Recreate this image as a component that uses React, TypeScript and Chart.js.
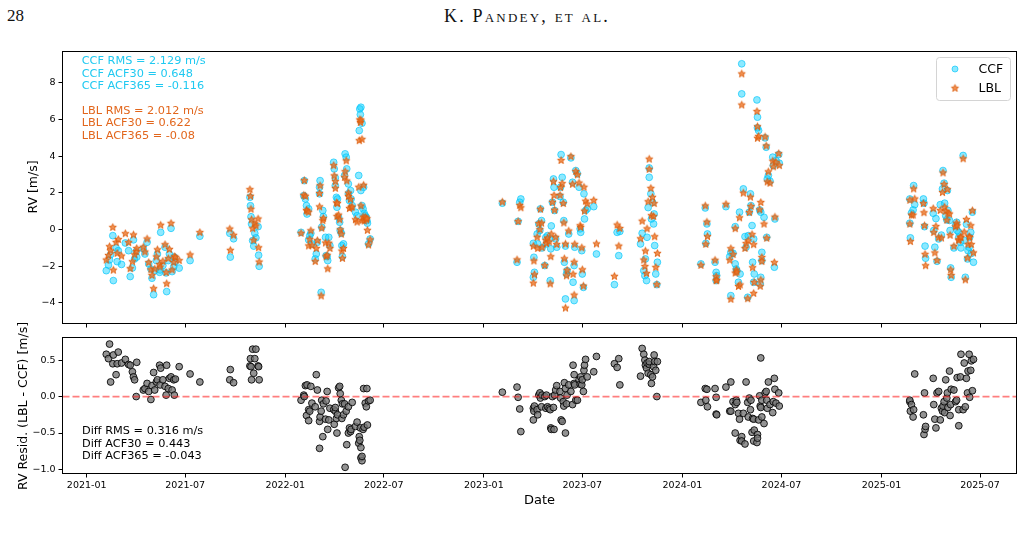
import { useEffect, useRef } from "react";
import { Chart, registerables } from "chart.js";

Chart.register(...registerables);

// Observation epochs (UTC dates) with CCF and LBL radial velocities and their residual (LBL - CCF), in m/s.
const obsDates: string[] = [
  // 2021
  "2021-02-06","2021-02-10","2021-02-12","2021-02-14","2021-02-18","2021-02-19","2021-02-24","2021-02-26","2021-02-28","2021-03-06",
  "2021-03-13","2021-03-19","2021-03-22","2021-03-26","2021-03-28","2021-03-30","2021-04-02","2021-04-03","2021-04-15","2021-04-18",
  "2021-04-22","2021-04-25","2021-04-29","2021-05-01","2021-05-04","2021-05-06","2021-05-09","2021-05-11","2021-05-15","2021-05-16",
  "2021-05-17","2021-05-21","2021-05-25","2021-05-27","2021-05-28","2021-05-31","2021-06-02","2021-06-05","2021-06-07","2021-06-10",
  "2021-06-11","2021-06-13","2021-06-20","2021-07-10","2021-07-28","2021-09-21","2021-09-22","2021-09-28","2021-10-28","2021-10-29",
  "2021-10-30","2021-10-31","2021-11-02","2021-11-04","2021-11-06","2021-11-08","2021-11-12","2021-11-13","2021-11-14",
  // 2022
  "2022-01-30","2022-02-04","2022-02-05","2022-02-07","2022-02-09","2022-02-10","2022-02-13","2022-02-13","2022-02-15","2022-02-17",
  "2022-02-19","2022-02-25","2022-02-27","2022-03-01","2022-03-05","2022-03-05","2022-03-06","2022-03-08","2022-03-09","2022-03-11",
  "2022-03-12","2022-03-16","2022-03-17","2022-03-19","2022-03-20","2022-03-22","2022-03-24","2022-03-31","2022-04-01","2022-04-03",
  "2022-04-03","2022-04-05","2022-04-06","2022-04-07","2022-04-09","2022-04-11","2022-04-12","2022-04-14","2022-04-15","2022-04-16",
  "2022-04-18","2022-04-20","2022-04-21","2022-04-23","2022-04-24","2022-04-27","2022-04-27","2022-04-29","2022-05-01","2022-05-02",
  "2022-05-04","2022-05-10","2022-05-13","2022-05-16","2022-05-17","2022-05-18","2022-05-19","2022-05-20","2022-05-20","2022-05-22",
  "2022-05-22","2022-05-24","2022-05-25","2022-05-26","2022-05-28","2022-05-30","2022-05-31","2022-06-01","2022-06-03","2022-06-06",
  // 2023
  "2023-02-04","2023-03-03","2023-03-05","2023-03-08","2023-03-10",
  "2023-04-02","2023-04-02","2023-04-03","2023-04-04","2023-04-09","2023-04-10","2023-04-12","2023-04-14","2023-04-15","2023-04-17",
  "2023-04-18","2023-04-23","2023-04-25","2023-04-26","2023-04-28","2023-05-01","2023-05-03","2023-05-04","2023-05-05","2023-05-07",
  "2023-05-09","2023-05-10","2023-05-11","2023-05-13","2023-05-15","2023-05-21","2023-05-22","2023-05-23","2023-05-25","2023-05-27",
  "2023-05-28","2023-05-29","2023-05-31","2023-05-31","2023-06-02","2023-06-03","2023-06-06","2023-06-10","2023-06-13","2023-06-14",
  "2023-06-16","2023-06-16","2023-06-17","2023-06-19","2023-06-22","2023-06-25","2023-06-27","2023-06-28","2023-06-30","2023-07-01",
  "2023-07-03","2023-07-04","2023-07-05","2023-07-07","2023-07-10","2023-07-22","2023-07-27",
  "2023-08-29","2023-09-03","2023-09-06","2023-09-08",
  "2023-10-16","2023-10-19","2023-10-22","2023-10-24","2023-10-25","2023-10-27","2023-10-28","2023-10-30","2023-11-01","2023-11-01",
  "2023-11-04","2023-11-05","2023-11-07","2023-11-09","2023-11-10","2023-11-11","2023-11-13","2023-11-15","2023-11-16",
  // 2024
  "2024-02-04","2024-02-12","2024-02-13","2024-02-15","2024-02-16","2024-03-01","2024-03-03","2024-03-03","2024-03-04","2024-03-21",
  "2024-03-28","2024-03-30","2024-03-30","2024-04-03","2024-04-07","2024-04-07","2024-04-09","2024-04-10","2024-04-13","2024-04-15",
  "2024-04-16","2024-04-19","2024-04-19","2024-04-22","2024-04-25","2024-04-27","2024-04-30","2024-05-01","2024-05-03","2024-05-05",
  "2024-05-06","2024-05-08","2024-05-09","2024-05-11","2024-05-11","2024-05-12","2024-05-17","2024-05-18","2024-05-18","2024-05-20",
  "2024-05-22","2024-05-23","2024-05-24","2024-05-24","2024-05-26","2024-05-26","2024-05-30","2024-06-01","2024-06-03","2024-06-04",
  "2024-06-05","2024-06-07","2024-06-10","2024-06-15","2024-06-16","2024-06-18","2024-06-19","2024-06-21","2024-06-26","2024-06-27",
  // 2025
  "2025-02-22","2025-02-22","2025-02-23","2025-02-25","2025-02-28","2025-03-01","2025-03-03","2025-03-19","2025-03-20","2025-03-21",
  "2025-03-22","2025-03-23","2025-04-06","2025-04-07","2025-04-09","2025-04-11","2025-04-13","2025-04-16","2025-04-19","2025-04-21",
  "2025-04-23","2025-04-24","2025-04-26","2025-04-27","2025-04-29","2025-05-01","2025-05-02","2025-05-03","2025-05-06","2025-05-07",
  "2025-05-08","2025-05-09","2025-05-14","2025-05-17","2025-05-19","2025-05-20","2025-05-23","2025-05-23","2025-05-26","2025-05-27",
  "2025-05-31","2025-06-02","2025-06-04","2025-06-06","2025-06-08","2025-06-09","2025-06-11","2025-06-12","2025-06-14","2025-06-15",
  "2025-06-17","2025-06-19",
];

const ccfRv: number[] = [
  -2.24,-1.93,-1.65,-1.36,-0.33,-2.78,-1.00,-1.75,-1.15,-1.90,
  -0.73,-1.15,-2.56,-2.09,-0.56,-1.60,-1.20,-1.50,-1.05,-1.33,
  -0.69,-1.87,-2.15,-2.65,-3.55,-2.24,-1.69,-1.33,-2.33,-2.20,
  -0.15,-1.96,-0.96,-2.36,-3.38,-1.69,-1.33,0.07,-2.29,-2.02,
  -1.50,-1.75,-2.10,-1.69,-0.36,-0.20,-1.50,-0.50,1.76,1.30,
  0.70,0.31,-0.60,-0.90,-0.20,-0.45,0.16,-1.40,-2.00,
  -0.15,1.85,2.67,1.67,1.31,0.85,1.13,-0.56,-0.33,-0.20,
  -0.78,-1.60,-1.33,-0.69,1.95,2.31,2.67,-3.42,0.13,1.04,
  0.71,-0.42,-1.42,-1.47,-1.69,-0.42,-0.87,3.67,3.31,2.82,
  2.40,1.76,1.22,1.67,0.67,0.40,-0.05,-0.20,-0.87,-1.47,
  -0.78,2.95,4.13,3.95,3.31,2.49,1.95,1.58,2.13,1.67,
  1.31,0.95,0.76,2.95,5.40,6.58,6.27,6.67,2.13,5.80,
  1.31,1.13,2.31,0.89,0.76,0.67,0.49,0.35,-0.78,-0.51,
  1.44,-1.78,0.45,1.49,1.67,
  -0.75,-2.60,-1.51,-2.33,-0.24,-0.78,0.31,-0.05,1.13,0.49,
  -1.00,-1.96,-0.42,-0.78,-0.33,-0.51,-2.78,-1.05,0.20,1.49,
  2.76,2.31,1.04,-0.51,-0.96,1.80,2.31,4.09,2.85,1.49,
  0.49,-1.78,-3.78,-0.90,-2.42,-2.24,-0.24,3.91,2.58,-2.87,
  -3.87,-1.96,-0.96,3.22,3.04,2.31,0.04,-0.15,-1.15,-2.42,
  -3.15,1.95,0.58,1.04,1.13,1.25,-1.33,
  -3.00,-0.15,-1.42,-0.10,
  -0.78,-0.20,-2.24,-2.51,-1.60,-2.78,-0.42,1.20,2.85,3.36,
  1.95,0.58,1.49,0.31,0.85,-0.87,-2.42,-3.00,-1.78,
  -1.87,1.18,-0.75,0.31,-0.24,-1.78,-2.33,-2.78,-2.51,1.25,
  -1.47,-1.24,-3.60,-1.29,0.16,-1.87,-2.15,-2.24,-2.87,0.95,
  -2.42,9.04,7.40,2.22,-0.38,-0.96,-3.69,-0.33,0.95,1.95,
  1.31,0.22,-1.78,-0.51,-2.87,-2.42,7.07,6.13,5.55,5.40,
  1.07,-2.96,0.95,-2.60,-1.24,-1.69,0.67,5.00,4.49,-0.42,
  2.76,2.95,2.64,3.95,3.49,-2.05,0.58,3.76,4.09,3.62,
  1.67,0.35,-0.45,0.90,1.07,2.40,1.36,1.67,1.44,0.16,
  -0.90,-1.56,0.89,-0.05,-0.96,0.60,-1.73,-0.51,1.36,-0.30,
  2.22,3.22,2.53,1.44,0.76,0.53,2.13,1.04,0.50,-0.05,
  -2.09,-2.60,-1.00,0.22,0.40,-0.05,-0.42,-0.15,-0.69,-1.00,
  4.04,-0.60,-2.60,0.30,-1.60,-1.15,-0.96,-0.42,-0.15,-1.30,
  0.95,-1.78,
];

const lblRv: number[] = [
  -1.66,-1.41,-0.93,-1.16,0.12,-2.21,-0.70,-1.30,-0.54,-1.44,
  -0.22,-0.71,-2.13,-1.75,-0.29,-1.37,-1.20,-1.03,-0.96,-1.22,
  -0.51,-1.80,-2.19,-2.50,-3.22,-2.15,-1.49,-1.10,-1.90,-2.04,
  0.24,-1.73,-0.82,-2.34,-2.95,-1.58,-1.08,0.34,-2.20,-1.79,
  -1.48,-1.51,-1.69,-1.38,-0.16,0.03,-1.13,-0.31,2.18,1.82,
  1.11,0.54,0.05,-0.58,0.32,0.20,0.58,-0.99,-1.77,
  -0.20,1.87,2.67,1.82,1.05,1.01,0.95,-0.89,-0.53,-0.06,
  -0.87,-1.74,-1.03,-0.60,1.24,1.97,2.39,-3.62,0.08,0.49,
  0.61,-0.73,-1.48,-1.40,-2.14,-0.74,-1.03,3.49,2.93,2.62,
  2.25,1.46,0.72,1.42,0.79,0.54,-0.01,-0.25,-1.17,-1.57,
  -1.03,2.85,3.16,3.75,2.65,1.99,1.81,1.15,1.65,1.22,
  1.23,0.54,0.41,2.31,4.85,5.98,5.84,5.97,1.29,4.92,
  0.49,0.68,2.42,0.47,0.67,0.53,0.60,-0.04,-0.84,-0.56,
  1.50,-1.65,0.44,1.32,1.19,
  -0.91,-2.92,-1.71,-2.46,-0.42,-1.03,0.33,0.00,1.11,0.35,
  -0.98,-1.96,-0.58,-0.76,-0.47,-0.67,-2.96,-1.48,-0.25,1.49,
  2.61,1.86,1.06,-0.42,-0.81,1.87,2.29,3.77,2.51,1.42,
  0.36,-1.59,-4.28,-0.79,-2.52,-2.22,-0.08,3.98,2.47,-2.44,
  -3.57,-1.78,-0.80,3.17,2.99,2.54,0.21,0.12,-0.99,-2.19,
  -3.08,2.31,1.01,1.55,1.40,1.59,-0.78,
  -2.55,0.25,-0.90,0.06,
  -0.50,0.46,-1.66,-2.01,-1.17,-2.39,0.04,1.52,3.29,3.84,
  2.25,0.76,1.76,0.72,1.42,-0.39,-2.06,-3.00,-1.30,
  -1.95,1.29,-0.80,0.41,-0.38,-1.67,-2.57,-2.79,-2.76,1.38,
  -1.67,-1.04,-3.80,-1.36,0.05,-2.37,-2.20,-2.32,-3.10,0.64,
  -3.02,8.49,6.79,1.99,-1.03,-0.76,-3.77,-0.61,0.93,1.77,
  1.26,-0.27,-2.08,-0.82,-3.48,-2.88,6.44,5.61,4.98,5.08,
  1.08,-3.09,1.48,-2.75,-1.52,-1.74,0.30,5.05,4.56,-0.47,
  2.60,3.15,2.53,3.73,3.42,-1.80,0.68,3.67,4.14,3.49,
  1.60,0.30,-0.65,0.79,0.79,2.22,1.67,1.42,0.92,0.21,
  -1.35,-1.97,1.14,-0.16,-1.27,0.17,-1.68,-0.44,1.04,-0.46,
  2.02,3.09,2.46,1.22,0.99,0.51,2.18,0.89,0.85,-0.31,
  -2.20,-2.50,-0.91,0.15,0.35,0.21,-0.60,-0.55,-0.42,-0.42,
  3.86,-0.14,-2.74,0.55,-1.55,-0.80,-0.38,-0.43,0.21,-0.81,
  1.03,-1.27,
];

const residRv: number[] = [
  0.58,0.52,0.72,0.20,0.45,0.57,0.30,0.45,0.61,0.46,
  0.51,0.44,0.43,0.34,0.27,0.23,0.00,0.47,0.09,0.11,
  0.18,0.07,-0.04,0.15,0.33,0.09,0.20,0.23,0.43,0.16,
  0.39,0.23,0.14,0.02,0.43,0.11,0.25,0.27,0.09,0.23,
  0.02,0.24,0.41,0.31,0.20,0.23,0.37,0.19,0.42,0.52,
  0.41,0.23,0.65,0.32,0.52,0.65,0.42,0.41,0.23,
  -0.05,0.02,0.00,0.15,-0.26,0.16,-0.18,-0.33,-0.20,0.14,
  -0.09,-0.14,0.30,0.09,-0.71,-0.34,-0.28,-0.20,-0.05,-0.55,
  -0.10,-0.31,-0.06,0.07,-0.45,-0.32,-0.16,-0.18,-0.38,-0.20,
  -0.15,-0.30,-0.50,-0.25,0.12,0.14,0.04,-0.05,-0.30,-0.10,
  -0.25,-0.10,-0.97,-0.20,-0.66,-0.50,-0.14,-0.43,-0.48,-0.45,
  -0.08,-0.41,-0.35,-0.64,-0.55,-0.60,-0.43,-0.70,-0.84,-0.88,
  -0.82,-0.45,0.11,-0.42,-0.09,-0.14,0.11,-0.39,-0.06,-0.05,
  0.06,0.13,-0.01,-0.17,-0.48,
  -0.16,-0.32,-0.20,-0.13,-0.18,-0.25,0.02,0.05,-0.02,-0.14,
  0.02,0.00,-0.16,0.02,-0.14,-0.16,-0.18,-0.43,-0.45,0.00,
  -0.15,-0.45,0.02,0.09,0.15,0.07,-0.02,-0.32,-0.34,-0.07,
  -0.13,0.19,-0.50,0.11,-0.10,0.02,0.16,0.07,-0.11,0.43,
  0.30,0.18,0.16,-0.05,-0.05,0.23,0.17,0.27,0.16,0.23,
  0.07,0.36,0.43,0.51,0.27,0.34,0.55,
  0.45,0.40,0.52,0.16,
  0.28,0.66,0.58,0.50,0.43,0.39,0.46,0.32,0.44,0.48,
  0.30,0.18,0.27,0.41,0.57,0.48,0.36,0.00,0.48,
  -0.08,0.11,-0.05,0.10,-0.14,0.11,-0.24,-0.01,-0.25,0.13,
  -0.20,0.20,-0.20,-0.07,-0.11,-0.50,-0.05,-0.08,-0.23,-0.31,
  -0.60,-0.55,-0.61,-0.23,-0.65,0.20,-0.08,-0.28,-0.02,-0.18,
  -0.05,-0.49,-0.30,-0.31,-0.61,-0.46,-0.63,-0.52,-0.57,-0.32,
  0.01,-0.13,0.53,-0.15,-0.28,-0.05,-0.37,0.05,0.07,-0.05,
  -0.16,0.20,-0.11,-0.22,-0.07,0.25,0.10,-0.09,0.05,-0.13,
  -0.07,-0.05,-0.20,-0.11,-0.28,-0.18,0.31,-0.25,-0.52,0.05,
  -0.45,-0.41,0.25,-0.11,-0.31,-0.43,0.05,0.07,-0.32,-0.16,
  -0.20,-0.13,-0.07,-0.22,0.23,-0.02,0.05,-0.15,0.35,-0.26,
  -0.11,0.10,0.09,-0.07,-0.05,0.26,-0.18,-0.40,0.27,0.58,
  -0.18,0.46,-0.14,0.25,0.05,0.35,0.58,-0.01,0.36,0.49,
  0.08,0.51,
];

const xTickLabels = ["2021-01","2021-07","2022-01","2022-07","2023-01","2023-07","2024-01","2024-07","2025-01","2025-07"];
const rvTicks = [-4, -2, 0, 2, 4, 6, 8];
const residTicks = [-1.0, -0.5, 0.0, 0.5];
const dateRange = ["2020-11-17T12:30:00Z", "2025-09-06T02:00:00Z"];
const rvRange = [-5.12, 9.71];
const residRange = [-1.055, 0.81];

const ccfStats = ["CCF RMS = 2.129 m/s", "CCF ACF30 = 0.648", "CCF ACF365 = -0.116"];
const lblStats = ["LBL RMS = 2.012 m/s", "LBL ACF30 = 0.622", "LBL ACF365 = -0.08"];
const diffStats = ["Diff RMS = 0.316 m/s", "Diff ACF30 = 0.443", "Diff ACF365 = -0.043"];

const FONT = "'DejaVu Sans'";
const CCF_FACE = "rgba(0, 206, 255, 0.45)";
const CCF_EDGE = "rgba(0, 196, 250, 0.65)";
const CCF_TEXT = "#1fc9f1";
const LBL_FACE = "rgba(238, 118, 40, 0.8)";
const LBL_EDGE = "#dc5c0b";
const LBL_TEXT = "#e2661c";

const toMs = (s: string) => Date.parse(s.length === 10 ? s + "T00:00:00Z" : s);
const minusFmt = (v: number, digits: number) =>
  (v < -1e-9 ? "\u2212" : "") + Math.abs(v).toFixed(digits);

function makeStar(size: number, outer: number): HTMLCanvasElement {
  const c = document.createElement("canvas");
  c.width = size;
  c.height = size;
  const g = c.getContext("2d")!;
  const cx = size / 2;
  const cy = size / 2;
  const inner = outer * 0.42;
  g.beginPath();
  for (let i = 0; i < 10; i++) {
    const r = i % 2 === 0 ? outer : inner;
    const a = -Math.PI / 2 + (i * Math.PI) / 5;
    const px = cx + r * Math.cos(a);
    const py = cy + r * Math.sin(a);
    if (i === 0) g.moveTo(px, py);
    else g.lineTo(px, py);
  }
  g.closePath();
  g.fillStyle = LBL_FACE;
  g.fill();
  g.lineWidth = 0.9;
  g.strokeStyle = LBL_EDGE;
  g.stroke();
  return c;
}

const gridOpts = {
  display: true,
  drawOnChartArea: false,
  drawTicks: true,
  tickLength: 4,
  color: "#000",
  tickColor: "#000",
  lineWidth: 1,
};

const zeroPad = (s: any) => {
  s.paddingLeft = 0;
  s.paddingRight = 0;
  s.paddingTop = 0;
  s.paddingBottom = 0;
};

function xAxis(showLabels: boolean, height: number) {
  return {
    type: "linear",
    position: "bottom",
    min: toMs(dateRange[0]),
    max: toMs(dateRange[1]),
    afterBuildTicks: (s: any) => {
      s.ticks = xTickLabels.map((l) => ({ value: toMs(l + "-01") }));
    },
    afterFit: (s: any) => {
      s.height = height;
      zeroPad(s);
    },
    grid: gridOpts,
    border: { display: false },
    ticks: {
      display: showLabels,
      autoSkip: false,
      maxRotation: 0,
      padding: 2,
      color: "#000",
      font: { family: FONT, size: 9.5 },
      callback: (_v: any, i: number) => xTickLabels[i],
    },
  };
}

function yAxis(range: number[], ticks: number[], digits: number) {
  return {
    type: "linear",
    position: "left",
    min: range[0],
    max: range[1],
    afterBuildTicks: (s: any) => {
      s.ticks = ticks.map((v) => ({ value: v }));
    },
    afterFit: (s: any) => {
      s.width = 62.5;
      zeroPad(s);
    },
    grid: gridOpts,
    border: { display: false },
    ticks: {
      autoSkip: false,
      padding: 3,
      color: "#000",
      font: { family: FONT, size: 9.5 },
      callback: (v: any) => minusFmt(Number(v), digits),
    },
  };
}

const framePlugin = {
  id: "frame",
  afterDatasetsDraw(chart: any) {
    const { ctx, chartArea: a } = chart;
    ctx.save();
    ctx.strokeStyle = "#000";
    ctx.lineWidth = 1;
    ctx.strokeRect(a.left, a.top, a.right - a.left, a.bottom - a.top);
    ctx.restore();
  },
};

function drawLines(ctx: CanvasRenderingContext2D, lines: string[], x: number, y0: number, step: number, color: string) {
  ctx.fillStyle = color;
  lines.forEach((t, i) => ctx.fillText(t, x, y0 + i * step));
}

export default function App() {
  const topRef = useRef<HTMLCanvasElement>(null);
  const botRef = useRef<HTMLCanvasElement>(null);

  useEffect(() => {
    const star = makeStar(11, 3.8);
    const xs = obsDates.map(toMs);

    const topAnnotations = {
      id: "topAnnotations",
      afterDraw(chart: any) {
        const ctx: CanvasRenderingContext2D = chart.ctx;
        ctx.save();
        ctx.font = `11.3px ${FONT}`;
        ctx.textAlign = "left";
        ctx.textBaseline = "middle";
        drawLines(ctx, ccfStats, 81.7, 21, 12.6, CCF_TEXT);
        drawLines(ctx, lblStats, 81.7, 70.7, 12.6, LBL_TEXT);

        // legend box
        ctx.beginPath();
        (ctx as any).roundRect(936.5, 17.5, 74, 43, 3);
        ctx.fillStyle = "rgba(255,255,255,0.85)";
        ctx.fill();
        ctx.strokeStyle = "#d4d4d4";
        ctx.lineWidth = 1;
        ctx.stroke();

        ctx.beginPath();
        ctx.arc(955, 29, 3.0, 0, Math.PI * 2);
        ctx.fillStyle = CCF_FACE;
        ctx.fill();
        ctx.strokeStyle = CCF_EDGE;
        ctx.stroke();
        ctx.drawImage(star, 955 - star.width / 2, 48.3 - star.height / 2);

        ctx.fillStyle = "#000";
        ctx.font = `12.5px ${FONT}`;
        const ds = chart.data.datasets;
        ctx.fillText(ds[0].label, 978.5, 29.5);
        ctx.fillText(ds[1].label, 978.5, 48.5);
        ctx.restore();
      },
    };

    const botAnnotations = {
      id: "botAnnotations",
      afterDraw(chart: any) {
        const ctx: CanvasRenderingContext2D = chart.ctx;
        ctx.save();
        ctx.font = `11.3px ${FONT}`;
        ctx.textAlign = "left";
        ctx.textBaseline = "middle";
        drawLines(ctx, diffStats, 82, 101, 12.7, "#000");
        ctx.restore();
      },
    };

    const top = new Chart(topRef.current!, {
      type: "scatter",
      data: {
        datasets: [
          {
            label: "CCF",
            data: xs.map((x, i) => ({ x, y: ccfRv[i] })),
            pointStyle: "circle",
            pointRadius: 3.4,
            pointBackgroundColor: CCF_FACE,
            pointBorderColor: CCF_EDGE,
            pointBorderWidth: 1,
            order: 2,
          },
          {
            label: "LBL",
            data: xs.map((x, i) => ({ x, y: lblRv[i] })),
            pointStyle: star as any,
            pointRadius: 4,
            order: 1,
          },
        ],
      },
      options: {
        animation: false,
        responsive: false,
        devicePixelRatio: 1,
        events: [],
        layout: { padding: { top: 11.5, right: 7.5, bottom: 0, left: 0 } },
        plugins: { legend: { display: false }, tooltip: { enabled: false } },
        scales: {
          x: xAxis(false, 6.5) as any,
          y: yAxis(rvRange, rvTicks, 0) as any,
        },
      },
      plugins: [framePlugin, topAnnotations],
    });

    const bot = new Chart(botRef.current!, {
      type: "scatter",
      data: {
        datasets: [
          {
            label: "zero",
            data: [
              { x: toMs(dateRange[0]), y: 0 },
              { x: toMs(dateRange[1]), y: 0 },
            ],
            showLine: true,
            pointRadius: 0,
            borderColor: "rgba(255, 40, 40, 0.6)",
            borderWidth: 1.7,
            borderDash: [7, 3],
            order: 0,
          } as any,
          {
            label: "LBL - CCF",
            data: xs.map((x, i) => ({ x, y: residRv[i] })),
            pointStyle: "circle",
            pointRadius: 3.4,
            pointBackgroundColor: "rgba(120, 120, 120, 0.8)",
            pointBorderColor: "rgba(0, 0, 0, 0.85)",
            pointBorderWidth: 1,
            order: 1,
          },
        ],
      },
      options: {
        animation: false,
        responsive: false,
        devicePixelRatio: 1,
        events: [],
        layout: { padding: { top: 7.5, right: 7.5, bottom: 0, left: 0 } },
        plugins: { legend: { display: false }, tooltip: { enabled: false } },
        scales: {
          x: xAxis(true, 62.5) as any,
          y: yAxis(residRange, residTicks, 1) as any,
        },
      },
      plugins: [framePlugin, botAnnotations],
    });

    return () => {
      top.destroy();
      bot.destroy();
    };
  }, []);

  const sans = "'DejaVu Sans', sans-serif";
  const rotated = (cx: number, cy: number, size: number, text: string) => (
    <div
      style={{
        position: "absolute",
        left: cx,
        top: cy,
        transform: "translate(-50%, -50%) rotate(-90deg)",
        whiteSpace: "nowrap",
        fontFamily: sans,
        fontSize: size,
        lineHeight: 1,
        color: "#000",
      }}
    >
      {text}
    </div>
  );

  return (
    <div
      style={{
        position: "fixed",
        left: 0,
        top: 0,
        width: 1024,
        height: 536,
        background: "#fff",
        overflow: "hidden",
      }}
    >
      <div
        style={{
          position: "absolute",
          left: 7,
          top: 7,
          fontFamily: "'Liberation Serif', serif",
          fontSize: 17,
          lineHeight: "17px",
          color: "#111",
        }}
      >
        28
      </div>
      <div
        style={{
          position: "absolute",
          left: 527,
          top: 7,
          transform: "translateX(-50%)",
          fontFamily: "'Liberation Serif', serif",
          fontSize: 18,
          lineHeight: "18px",
          fontVariant: "small-caps",
          letterSpacing: 2.2,
          whiteSpace: "nowrap",
          color: "#111",
        }}
      >
        K. Pandey, et al.
      </div>

      <canvas
        ref={topRef}
        width={1024}
        height={290}
        style={{ position: "absolute", left: 0, top: 40, width: 1024, height: 290 }}
      />
      <canvas
        ref={botRef}
        width={1024}
        height={206}
        style={{ position: "absolute", left: 0, top: 330, width: 1024, height: 206 }}
      />

      {rotated(32.5, 187, 12.5, "RV [m/s]")}
      {rotated(22.7, 405.7, 12.5, "RV Resid. (LBL - CCF) [m/s]")}
      <div
        style={{
          position: "absolute",
          left: 539.5,
          top: 499.3,
          transform: "translate(-50%, -50%)",
          whiteSpace: "nowrap",
          fontFamily: sans,
          fontSize: 13,
          lineHeight: 1,
          color: "#000",
        }}
      >
        Date
      </div>
    </div>
  );
}
